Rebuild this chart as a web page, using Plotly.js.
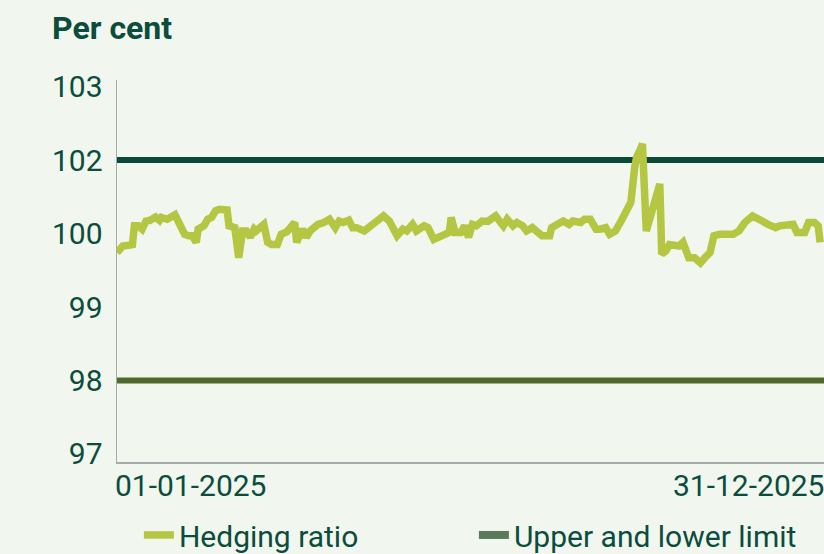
<!DOCTYPE html>
<html>
<head>
<meta charset="utf-8">
<script src="https://cdn.plot.ly/plotly-3.0.1.min.js"></script>
<style>
  html, body { margin: 0; padding: 0; background: #f1f6ef; }
  #chart { width: 824px; height: 554px; }
</style>
</head>
<body>
<div id="chart"></div>
<script>
// ---- Data (per cent) ----
const hedgeDates = [
  '2025-01-01','2025-01-04','2025-01-07','2025-01-09','2025-01-10','2025-01-12','2025-01-14','2025-01-16','2025-01-18','2025-01-21',
  '2025-01-23','2025-01-24','2025-01-27','2025-01-29','2025-01-31','2025-02-02','2025-02-05','2025-02-07','2025-02-09','2025-02-11',
  '2025-02-12','2025-02-15','2025-02-17','2025-02-19','2025-02-21','2025-02-23','2025-02-27','2025-02-28','2025-03-03','2025-03-05',
  '2025-03-07','2025-03-09','2025-03-11','2025-03-13','2025-03-14','2025-03-18','2025-03-20','2025-03-22','2025-03-25','2025-03-27',
  '2025-03-30','2025-04-03','2025-04-04','2025-04-07','2025-04-09','2025-04-11','2025-04-15','2025-04-18','2025-04-21','2025-04-24',
  '2025-04-26','2025-04-28','2025-05-01','2025-05-03','2025-05-05','2025-05-09','2025-05-11','2025-05-15','2025-05-19','2025-05-22',
  '2025-05-23','2025-05-26','2025-05-29','2025-05-31','2025-06-03','2025-06-05','2025-06-09','2025-06-11','2025-06-14','2025-06-17',
  '2025-06-19','2025-06-22','2025-06-23','2025-06-25','2025-06-28','2025-06-30','2025-07-02','2025-07-04','2025-07-06','2025-07-09',
  '2025-07-12','2025-07-16','2025-07-18','2025-07-20','2025-07-22','2025-07-25','2025-07-27','2025-07-30','2025-08-01','2025-08-04',
  '2025-08-06','2025-08-09','2025-08-13','2025-08-14','2025-08-17','2025-08-20','2025-08-23','2025-08-25','2025-08-29','2025-08-31',
  '2025-09-03','2025-09-06','2025-09-08','2025-09-11','2025-09-13','2025-09-16','2025-09-19','2025-09-21','2025-09-24','2025-09-26',
  '2025-09-27','2025-09-29','2025-09-30','2025-10-02','2025-10-04','2025-10-06','2025-10-09','2025-10-10','2025-10-12','2025-10-14',
  '2025-10-17','2025-10-19','2025-10-21','2025-10-24','2025-10-27','2025-10-30','2025-11-02','2025-11-04','2025-11-06','2025-11-09',
  '2025-11-13','2025-11-16','2025-11-19','2025-11-22','2025-11-26','2025-11-28','2025-12-01','2025-12-04','2025-12-08','2025-12-10',
  '2025-12-13','2025-12-17','2025-12-19','2025-12-23','2025-12-25','2025-12-28','2025-12-30','2025-12-31'
];
const hedgeRatio = [
  99.74, 99.83, 99.84, 99.85, 100.21, 100.21, 100.12, 100.34, 100.36, 100.45,
  100.36, 100.44, 100.39, 100.44, 100.51, 100.30, 99.99, 99.97, 99.97, 99.88,
  100.12, 100.21, 100.39, 100.44, 100.62, 100.66, 100.64, 100.21, 100.16, 99.67,
  100.07, 100.07, 99.95, 100.12, 100.07, 100.25, 99.88, 99.85, 99.85, 99.99,
  100.05, 100.30, 99.88, 100.12, 99.95, 100.07, 100.25, 100.30, 100.39, 100.16,
  100.34, 100.30, 100.36, 100.16, 100.16, 100.07, 100.16, 100.34, 100.48, 100.34,
  100.21, 99.97, 100.12, 100.07, 100.25, 100.07, 100.21, 100.16, 99.92, 99.95,
  99.99, 100.03, 100.44, 100.03, 100.03, 100.21, 99.95, 100.25, 100.21, 100.34,
  100.33, 100.48, 100.34, 100.21, 100.39, 100.21, 100.30, 100.21, 100.07, 100.16,
  100.07, 99.97, 99.97, 100.16, 100.25, 100.34, 100.25, 100.34, 100.30, 100.39,
  100.39, 100.12, 100.12, 100.16, 99.99, 100.07, 100.34, 100.57, 100.85, 101.80,
  102.04, 102.15, 102.22, 100.07, 100.44, 100.80, 101.35, 99.72, 99.76, 99.85,
  99.85, 99.83, 99.88, 99.67, 99.67, 99.60, 99.69, 99.74, 99.97, 99.99,
  99.99, 99.99, 100.07, 100.30, 100.48, 100.44, 100.34, 100.25, 100.16, 100.21,
  100.21, 100.25, 100.03, 100.03, 100.30, 100.30, 100.21, 99.88
];
const limitDates = ['2025-01-01', '2026-01-02'];
const upperLimit = [102, 102];
const lowerLimit = [98, 98];
const tickLabels = ['97', '98', '99', '100', '102', '103'];
const tickValues = [97, 98, 99, 100, 102, 103];
const seriesNames = ['Hedging ratio', 'Upper and lower limit'];
const xLabels = ['01-01-2025', '31-12-2025'];

// The reference axis spaces its labels evenly (97,98,99,100,102,103),
// so the axis is piecewise: 100->102 occupies one tick step.
function toAxis(v) {
  if (v <= 100) return v;
  if (v <= 102) return 100 + (v - 100) / 2;
  return 101 + (v - 102);
}

const TXT = '#0b4d3c';
const FONT = 'Roboto, "Noto Sans", sans-serif';

const traces = [
  {
    x: limitDates, y: upperLimit.map(toAxis), type: 'scatter', mode: 'lines',
    line: { color: '#0a4a38', width: 6 }, showlegend: false, hoverinfo: 'skip'
  },
  {
    x: limitDates, y: lowerLimit.map(toAxis), type: 'scatter', mode: 'lines',
    line: { color: '#4f6a2c', width: 6 }, showlegend: false, hoverinfo: 'skip'
  },
  {
    x: hedgeDates, y: hedgeRatio.map(toAxis), type: 'scatter', mode: 'lines',
    name: seriesNames[0], line: { color: '#b5c642', width: 7.5 }
  },
  {
    x: [null], y: [null], type: 'scatter', mode: 'lines',
    name: seriesNames[1], line: { color: '#5b7a5b', width: 8 }
  }
];

const layout = {
  width: 824, height: 554,
  paper_bgcolor: '#f1f6ef', plot_bgcolor: '#f1f6ef',
  margin: { l: 117, r: 0, t: 80, b: 92, autoexpand: false },
  font: { family: FONT, color: TXT, size: 30 },
  title: {
    text: '<b>Per cent</b>', x: 52 / 824, xanchor: 'left', xref: 'container',
    y: 1 - 28 / 554, yref: 'container', yanchor: 'middle',
    font: { family: FONT, size: 32, color: TXT }
  },
  xaxis: {
    type: 'date', range: ['2025-01-01', '2026-01-02'],
    showgrid: false, zeroline: false, showticklabels: false, ticks: '',
    showline: true, linecolor: '#aaaaaa', linewidth: 1.5, fixedrange: true
  },
  yaxis: {
    range: [96.89, 102.09],
    tickvals: tickValues.map(toAxis), ticktext: tickLabels,
    showgrid: false, zeroline: false, ticks: '',
    showline: true, linecolor: '#aaaaaa', linewidth: 1.5,
    ticklabelstandoff: 7,
    tickfont: { family: FONT, size: 30, color: TXT }, fixedrange: true
  },
  annotations: [
    {
      text: xLabels[0], x: hedgeDates[0], xref: 'x', xanchor: 'left',
      y: 0, yref: 'paper', yanchor: 'top', yshift: -4, xshift: -4, showarrow: false,
      font: { family: FONT, size: 30, color: TXT }
    },
    {
      text: xLabels[1], x: hedgeDates[hedgeDates.length - 1], xref: 'x', xanchor: 'right',
      y: 0, yref: 'paper', yanchor: 'top', yshift: -4, xshift: 6, showarrow: false,
      font: { family: FONT, size: 30, color: TXT }
    }
  ],
  legend: {
    orientation: 'h', x: 0.031, xanchor: 'left', y: -0.191, yanchor: 'middle',
    font: { family: FONT, size: 30, color: TXT },
    bgcolor: 'rgba(0,0,0,0)', entrywidth: 290, entrywidthmode: 'pixels',
    traceorder: 'normal', itemwidth: 30
  },
  showlegend: true
};

Plotly.newPlot('chart', traces, layout, { displayModeBar: false, staticPlot: true });
</script>
</body>
</html>
